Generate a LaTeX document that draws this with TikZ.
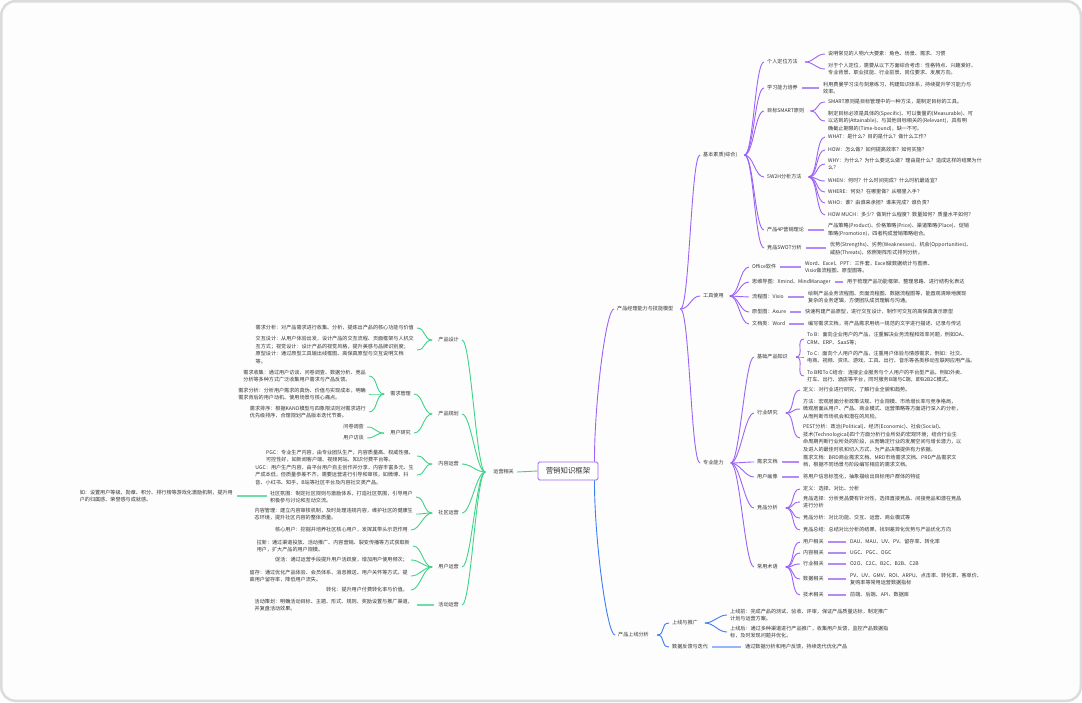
\documentclass[tikz,border=0pt]{standalone}
\usepackage{fontspec}
\newfontfamily\cjk{Noto Sans CJK SC}
\usetikzlibrary{calc}
\definecolor{pu}{HTML}{9D63F6}
\definecolor{gr}{HTML}{3CD487}
\definecolor{bl}{HTML}{3B7DF4}
\definecolor{tcol}{HTML}{333333}
\tikzset{
 txt/.style={font=\cjk\fontsize{5.1}{7.6}\selectfont, inner sep=0pt, align=left, text=tcol},
 rootbox/.style={font=\cjk\fontsize{7.4}{8}\selectfont, draw=pu, line width=0.9pt, rounded corners=1.5pt, fill=white, minimum width=60pt, minimum height=18pt, inner sep=0pt, text=tcol},
 lnk/.style={line width=0.9pt},
 slnk/.style={line width=1.1pt},
}
% curve from a fork coordinate to a node on the right / on the left
\newcommand\myrc[3][pu]{\draw[lnk,draw=#1] (#2) .. controls +(9,0) and +(-9,0) .. ($(#3.west)+(-3,0)$);}
\newcommand\mylc[3][gr]{\draw[lnk,draw=#1] (#2) .. controls +(-9,0) and +(9,0) .. ($(#3.east)+(3,0)$);}
% straight connector between label and its single text
\newcommand\myrh[3][pu!75]{\draw[slnk,draw=#1] ($(#2.east)+(4,0)$) -- ($(#2.east -| #3.west)+(-4,0)$);}
\newcommand\mylh[3][gr!75]{\draw[slnk,draw=#1] ($(#2.west)+(-4,0)$) -- ($(#2.west -| #3.east)+(4,0)$);}
\begin{document}
\begin{tikzpicture}[x=1pt,y=-1pt]
\useasboundingbox (0,0) rectangle (1082,702);
\draw[draw=black!14, line width=2.5pt, fill=white!99.3!black, rounded corners=14pt] (1.25,1.25) rectangle (1080.75,700.75);

% ---------------- root ----------------
\node[rootbox] (root) at (568,471) {营销知识框架};

% ---------------- right (purple) ----------------
\node[txt,anchor=west] (p) at (617,309) {产品经理能力与技能模型};
\coordinate (pf) at ($(p.east)+(7,0)$);
\draw[lnk,draw=pu] ($(root.north east)+(-4,0)$) .. controls +(0,-60) and +(-8,0) .. ($(p.west)+(-3,0)$);

\node[txt,anchor=west] (b1) at (703,155) {基本素质(综合)};
\node[txt,anchor=west] (b2) at (703,296) {工具使用};
\node[txt,anchor=west] (b3) at (703,463) {专业能力};
\coordinate (b1f) at ($(b1.east)+(7,0)$);
\coordinate (b2f) at ($(b2.east)+(6,0)$);
\coordinate (b3f) at ($(b3.east)+(7,0)$);
\myrc{pf}{b1}\myrc{pf}{b2}\myrc{pf}{b3}

% b1 children
\node[txt,anchor=west] (c11) at (767,62) {个人定位方法};
\node[txt,anchor=west] (c12) at (767,88) {学习能力培养};
\node[txt,anchor=west] (c13) at (767,111) {目标SMART原则};
\node[txt,anchor=west] (c14) at (767,177) {5W2H分析方法};
\node[txt,anchor=west] (c15) at (767,230) {产品4P营销理论};
\node[txt,anchor=west] (c16) at (767,248) {竞品SWOT分析};
\foreach \n in {c11,c12,c13,c14,c15,c16}{\myrc{b1f}{\n}}
\coordinate (c11f) at ($(c11.east)+(7,0)$);
\coordinate (c13f) at ($(c13.east)+(6,0)$);
\coordinate (c14f) at ($(c14.east)+(7,0)$);

\node[txt,anchor=west] (t111) at (828,54) {说明常见的人物六大要素：角色、场景、需求、习惯};
\node[txt,anchor=west] (t112) at (828,69) {对于个人定位，需要从以下方面综合考虑：性格特点、兴趣爱好、\\专业背景、职业技能、行业前景、岗位要求、发展方向。};
\myrc{c11f}{t111}\myrc{c11f}{t112}
\node[txt,anchor=west] (t121) at (823,88) {利用费曼学习法与刻意练习，构建知识体系，持续提升学习能力与\\效率。};
\myrh{c12}{t121}
\node[txt,anchor=west] (t131) at (828,102) {SMART原则是目标管理中的一种方法，是制定目标的工具。};
\node[txt,anchor=west] (t132) at (828,121) {制定目标必须是具体的(Specific)、可以衡量的(Measurable)、可\\以达到的(Attainable)、与其他目标相关的(Relevant)，具有明\\确截止期限的(Time-bound)，缺一不可。};
\myrc{c13f}{t131}\myrc{c13f}{t132}
\node[txt,anchor=west] (t141) at (828,137) {WHAT：是什么？目的是什么？做什么工作？};
\node[txt,anchor=west] (t142) at (828,150) {HOW：怎么做？如何提高效率？如何实施？};
\node[txt,anchor=west] (t143) at (828,164) {WHY：为什么？为什么要这么做？理由是什么？造成这样的结果为什\\么？};
\node[txt,anchor=west] (t144) at (828,181) {WHEN：何时？什么时间完成？什么时机最适宜？};
\node[txt,anchor=west] (t145) at (828,192) {WHERE：何处？在哪里做？从哪里入手？};
\node[txt,anchor=west] (t146) at (828,203) {WHO：谁？由谁来承担？谁来完成？谁负责？};
\node[txt,anchor=west] (t147) at (828,215) {HOW MUCH：多少？做到什么程度？数量如何？质量水平如何？};
\foreach \n in {t141,t142,t143,t144,t145,t146,t147}{\myrc{c14f}{\n}}
\node[txt,anchor=west] (t151) at (828,230) {产品策略(Product)、价格策略(Price)、渠道策略(Place)、促销\\策略(Promotion)，四者构成营销策略组合。};
\myrh{c15}{t151}
\node[txt,anchor=west] (t161) at (830,249) {优势(Strengths)、劣势(Weaknesses)、机会(Opportunities)、\\威胁(Threats)，依照矩阵形式排列分析。};
\myrh{c16}{t161}

% b2 children
\node[txt,anchor=west] (c21) at (752,267) {Office软件};
\node[txt,anchor=west] (c22) at (752,282) {思维导图：Xmind、MindManager};
\node[txt,anchor=west] (c23) at (752,297) {流程图：Visio};
\node[txt,anchor=west] (c24) at (752,312) {原型图：Axure};
\node[txt,anchor=west] (c25) at (752,324) {文档类：Word};
\foreach \n in {c21,c22,c23,c24,c25}{\myrc{b2f}{\n}}
\node[txt,anchor=west] (t211) at (805,267) {Word、Excel、PPT：三件套，Excel做数据统计与图表、\\Visio做流程图、原型图等。};
\node[txt,anchor=west] (t221) at (847,282) {用于梳理产品功能框架、整理思路、进行结构化表达};
\node[txt,anchor=west] (t231) at (808,297) {绘制产品业务流程图、页面流程图、数据流程图等，能直观清晰地展现\\复杂的业务逻辑，方便团队成员理解与沟通。};
\node[txt,anchor=west] (t241) at (805,312) {快速构建产品原型，进行交互设计，制作可交互的高保真演示原型};
\node[txt,anchor=west] (t251) at (808,324) {编写需求文档，将产品需求用统一规范的文字进行描述、记录与传达};
\myrh{c21}{t211}\myrh{c22}{t221}\myrh{c23}{t231}\myrh{c24}{t241}\myrh{c25}{t251}

% b3 children
\node[txt,anchor=west] (c31) at (757,357) {基础产品知识};
\node[txt,anchor=west] (c32) at (757,413) {行业研究};
\node[txt,anchor=west] (c33) at (757,462) {需求文档};
\node[txt,anchor=west] (c34) at (757,477) {用户画像};
\node[txt,anchor=west] (c35) at (757,508) {竞品分析};
\node[txt,anchor=west] (c36) at (757,567) {常用术语};
\foreach \n in {c31,c32,c33,c34,c35,c36}{\myrc{b3f}{\n}}
\coordinate (c31f) at ($(c31.east)+(8,0)$);
\coordinate (c32f) at ($(c32.east)+(8,0)$);
\coordinate (c35f) at ($(c35.east)+(8,0)$);
\coordinate (c36f) at ($(c36.east)+(8,0)$);

\node[txt,anchor=west] (t311) at (807,339) {To B：面向企业用户的产品，注重解决业务流程和效率问题，例如OA、\\CRM、ERP、SaaS等；};
\node[txt,anchor=west] (t312) at (807,357) {To C：面向个人用户的产品，注重用户体验与情感需求，例如：社交、\\电商、视频、资讯、游戏、工具、出行、音乐等各类移动互联网应用产品。};
\node[txt,anchor=west] (t313) at (807,376) {To B和To C结合：连接企业服务与个人用户的平台型产品，例如外卖、\\打车、出行、酒店等平台，同时服务B端与C端，即B2B2C模式。};
\myrc{c31f}{t311}\myrc{c31f}{t312}\myrc{c31f}{t313}
\node[txt,anchor=west] (t321) at (803,390) {定义：对行业进行研究，了解行业全貌和趋势。};
\node[txt,anchor=west] (t322) at (803,409) {方法：宏观层面分析政策法规、行业规模、市场增长率与竞争格局，\\微观层面从用户、产品、商业模式、运营策略等方面进行深入的分析，\\从而判断市场机会和潜在的风险。};
\node[txt,anchor=west] (t323) at (803,438) {PEST分析：政治(Political)、经济(Economic)、社会(Social)、\\技术(Technological)四个方面分析行业所处的宏观环境；结合行业生\\命周期判断行业所处的阶段，从而确定行业的发展空间与增长潜力，以\\及进入的最佳时机和切入方式，为产品决策提供有力依据。};
\myrc{c32f}{t321}\myrc{c32f}{t322}\myrc{c32f}{t323}
\node[txt,anchor=west] (t331) at (803,461) {需求文档：BRD商业需求文档、MRD市场需求文档、PRD产品需求文\\档，根据不同场景与阶段编写相应的需求文档。};
\myrh{c33}{t331}
\node[txt,anchor=west] (t341) at (803,477) {将用户信息标签化，抽象描绘出目标用户群体的特征};
\myrh{c34}{t341}
\node[txt,anchor=west] (t351) at (803,489) {定义：选择、对比、分析};
\node[txt,anchor=west] (t352) at (803,502) {竞品选择：分析竞品要有针对性，选择直接竞品、间接竞品和潜在竞品\\进行分析};
\node[txt,anchor=west] (t353) at (803,518) {竞品分析：对比功能、交互、运营、商业模式等};
\node[txt,anchor=west] (t354) at (803,530) {竞品总结：总结对比分析的结果，找到差异化优势与产品优化方向};
\foreach \n in {t351,t352,t353,t354}{\myrc{c35f}{\n}}

\node[txt,anchor=west] (d361) at (803,542) {用户相关};
\node[txt,anchor=west] (d362) at (803,553) {内容相关};
\node[txt,anchor=west] (d363) at (803,564) {行业相关};
\node[txt,anchor=west] (d364) at (803,579) {数据相关};
\node[txt,anchor=west] (d365) at (803,595) {技术相关};
\foreach \n in {d361,d362,d363,d364,d365}{\myrc{c36f}{\n}}
\node[txt,anchor=west] (s361) at (850,542) {DAU、MAU、UV、PV、留存率、转化率};
\node[txt,anchor=west] (s362) at (850,553) {UGC、PGC、OGC};
\node[txt,anchor=west] (s363) at (850,564) {O2O、C2C、B2C、B2B、C2B};
\node[txt,anchor=west] (s364) at (850,579) {PV、UV、GMV、ROI、ARPU、点击率、转化率、客单价、\\复购率等常用运营数据指标};
\node[txt,anchor=west] (s365) at (850,595) {前端、后端、API、数据库};
\myrh{d361}{s361}\myrh{d362}{s362}\myrh{d363}{s363}\myrh{d364}{s364}\myrh{d365}{s365}

% ---------------- bottom (blue) ----------------
\node[txt,anchor=west] (u) at (618,635) {产品上线分析};
\draw[lnk,draw=bl] ($(root.south east)+(-4,0)$) .. controls +(0,60) and +(-8,0) .. ($(u.west)+(-3,0)$);
\coordinate (uf) at ($(u.east)+(8,0)$);
\node[txt,anchor=west] (u1) at (672,623) {上线与推广};
\node[txt,anchor=west] (u2) at (672,647) {数据反馈与迭代};
\myrc[bl]{uf}{u1}\myrc[bl]{uf}{u2}
\coordinate (u1f) at ($(u1.east)+(7,0)$);
\node[txt,anchor=west] (v11) at (730,615) {上线前：完成产品的测试、验收、评审，保证产品质量达标，制定推广\\计划与运营方案。};
\node[txt,anchor=west] (v12) at (730,632) {上线后：通过多种渠道进行产品推广，收集用户反馈，监控产品数据指\\标，及时发现问题并优化。};
\myrc[bl]{u1f}{v11}\myrc[bl]{u1f}{v12}
\node[txt,anchor=west] (v21) at (745,647) {通过数据分析和用户反馈，持续迭代优化产品};
\myrh[bl!55]{u2}{v21}

% ---------------- left (green) ----------------
\node[txt,anchor=east] (g) at (514,472) {运营相关};
\draw[lnk,draw=gr] (root.west) -- ($(g.east)+(3,0)$);
\coordinate (gf) at ($(g.west)+(-8,0)$);
\node[txt,anchor=east] (d1) at (459,340) {产品设计};
\node[txt,anchor=east] (d2) at (459,414) {产品规划};
\node[txt,anchor=east] (d3) at (459,464) {内容运营};
\node[txt,anchor=east] (d4) at (459,513) {社区运营};
\node[txt,anchor=east] (d5) at (459,567) {用户运营};
\node[txt,anchor=east] (d6) at (459,605) {活动运营};
\foreach \n in {d1,d2,d3,d4,d5,d6}{\mylc{gf}{\n}}
\foreach \n in {d1,d2,d3,d4,d5}{\coordinate (\n f) at ($(\n.west)+(-6,0)$);}

\node[txt,anchor=east] (e11) at (414,328) {需求分析：对产品需求进行收集、分析，提炼出产品的核心功能与价值};
\node[txt,anchor=east] (e12) at (414,350) {交互设计：从用户体验出发，设计产品的交互流程、页面框架与人机交\\互方式；视觉设计：设计产品的视觉风格，提升美感与品牌识别度；\\原型设计：通过原型工具输出线框图、高保真原型与交互说明文档\\等。};
\mylc{d1f}{e11}\mylc{d1f}{e12}

\node[txt,anchor=east] (e21) at (411,394) {需求管理};
\node[txt,anchor=east] (e22) at (411,433) {用户研究};
\mylc{d2f}{e21}\mylc{d2f}{e22}
\coordinate (e21f) at ($(e21.west)+(-6,0)$);
\coordinate (e22f) at ($(e22.west)+(-6,0)$);
\node[txt,anchor=east] (f211) at (366,376) {需求收集：通过用户访谈、问卷调查、数据分析、竞品\\分析等多种方式广泛收集用户需求与产品反馈。};
\node[txt,anchor=east] (f212) at (366,394) {需求分析：分析用户需求的真伪、价值与实现成本，明确\\需求背后的用户动机、使用场景与核心痛点。};
\node[txt,anchor=east] (f213) at (366,412) {需求排序：根据KANO模型与四象限法则对需求进行\\优先级排序，合理规划产品版本迭代节奏。};
\mylc{e21f}{f211}\mylc{e21f}{f212}\mylc{e21f}{f213}
\node[txt,anchor=east] (f221) at (364,427) {问卷调查};
\node[txt,anchor=east] (f222) at (364,438) {用户访谈};
\mylc{e22f}{f221}\mylc{e22f}{f222}

\node[txt,anchor=east] (e31) at (414,456) {PGC：专业生产内容，由专业团队生产，内容质量高、权威性强、\\可控性好，如新闻客户端、视频网站、知识付费平台等。};
\node[txt,anchor=east] (e32) at (414,475) {UGC：用户生产内容，由平台用户自主创作并分享，内容丰富多元、生\\产成本低，但质量参差不齐，需要运营进行引导和审核，如微博、抖\\音、小红书、知乎、B站等社区平台及内容社交类产品。};
\mylc{d3f}{e31}\mylc{d3f}{e32}

\node[txt,anchor=east] (e41) at (413,497) {社区氛围：制定社区规则与激励体系，打造社区氛围，引导用户\\积极参与讨论和互动交流。};
\node[txt,anchor=east] (e42) at (413,514) {内容管理：建立内容审核机制，及时处理违规内容，维护社区的健康生\\态环境，提升社区内容的整体质量。};
\node[txt,anchor=east] (e43) at (408,530) {核心用户：挖掘并培养社区核心用户，发挥其带头示范作用};
\mylc{d4f}{e41}\mylc{d4f}{e42}\mylc{d4f}{e43}
\node[txt,anchor=east] (ff) at (233,496) {如：设置用户等级、勋章、积分、排行榜等游戏化激励机制，提升用\\户的归属感、荣誉感与成就感。};
\draw[slnk,draw=gr!75] ($(e41.west)+(-3,-1)$) -- ($(e41.west -| ff.east)+(4,-1)$);

\node[txt,anchor=east] (e51) at (410,546) {拉新：通过渠道投放、活动推广、内容营销、裂变传播等方式获取新\\用户，扩大产品的用户规模。};
\node[txt,anchor=east] (e52) at (408,560) {促活：通过运营手段提升用户活跃度，增加用户使用频次；};
\node[txt,anchor=east] (e53) at (408,576) {留存：通过优化产品体验、会员体系、消息推送、用户关怀等方式，提\\高用户留存率，降低用户流失。};
\node[txt,anchor=east] (e54) at (408,590) {转化：提升用户付费转化率与价值。};
\foreach \n in {e51,e52,e53,e54}{\mylc{d5f}{\n}}

\node[txt,anchor=east] (e61) at (413,605) {活动策划：明确活动目标、主题、形式、规则、奖励设置与推广渠道，\\并复盘活动效果。};
\mylh{d6}{e61}
\end{tikzpicture}
\end{document}
